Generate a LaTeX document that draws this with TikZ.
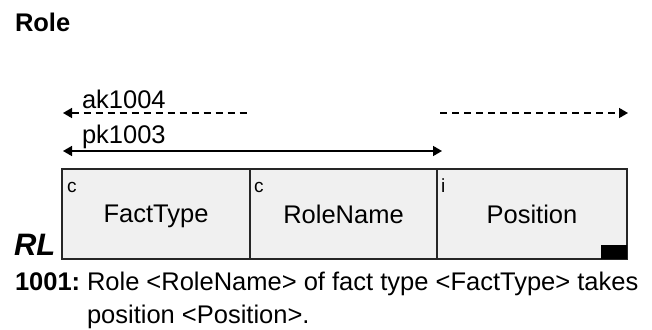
\documentclass[tikz,border=0pt]{standalone}
\usepackage{fontspec}
\setmainfont{Liberation Sans}
\usetikzlibrary{arrows.meta}
\newcommand{\fieldfont}{\fontsize{25.5}{30}\selectfont}
\newcommand{\kindfont}{\fontsize{19}{22}\selectfont}
\newcommand{\fieldheight}{90pt}
\tikzstyle{txt}=[inner sep=0, outer sep=0, anchor=base west, font=\fieldfont]
\tikzstyle{field}=[draw=black!85, line width=1.6pt, fill=black!6, inner sep=0, outer sep=0,
                   minimum height=\fieldheight, anchor=north west, text depth=0pt, font=\fieldfont]
\tikzstyle{kind}=[txt, font=\kindfont]
\tikzstyle{keyline}=[line width=1.5pt, >={Triangle[length=9pt, width=10pt]}]
\tikzstyle{altkey}=[keyline, dash pattern=on 7pt off 5pt]

\begin{document}
\begin{tikzpicture}[x=1pt, y=-1pt]
    \useasboundingbox (0,0) rectangle (652,329);
    \node[txt, font=\fieldfont\bfseries] (title) at (15,32) {Role};
    % uniqueness constraints above the fields
    \coordinate (ak west) at (63,113);
    \coordinate (ak mid) at (249,113);
    \coordinate (ak restart) at (440,113);
    \coordinate (ak east) at (628,113);
    \coordinate (pk west) at (63,151);
    \coordinate (pk east) at (442,151);
    \draw[altkey, <-] (ak west) -- (ak mid);
    \draw[altkey, ->] (ak restart) -- (ak east);
    \draw[keyline, <->] (pk west) -- (pk east);
    \node[txt] (aklabel) at (82,108) {ak1004};
    \node[txt] (pklabel) at (82,143) {pk1003};
    % the fields
    \node[field, minimum width=188pt] (facttype) at (62,169) {FactType};
    \node[field, minimum width=187pt] (rolename) at (facttype.north east) {RoleName};
    \node[field, minimum width=190pt] (position) at (rolename.north east) {Position};
    \node[fill=black, inner sep=0, outer sep=0, minimum width=26pt, minimum height=14pt,
          anchor=south east] (posmark) at (position.south east) {};
    \node[kind] (facttypekind) at (67,192) {c};
    \node[kind] (rolenamekind) at (254,192) {c};
    \node[kind] (positionkind) at (441,192) {i};
    \node[txt, font=\fontsize{31}{36}\selectfont\bfseries\itshape] (rl) at (14,255) {RL};
    % reading
    \node[txt, font=\fieldfont\bfseries] (readnum) at (15,290) {1001:};
    \node[txt] (readline1) at (87,290) {Role <RoleName> of fact type <FactType> takes};
    \node[txt] (readline2) at (87,323) {position <Position>.};
\end{tikzpicture}
\end{document}
